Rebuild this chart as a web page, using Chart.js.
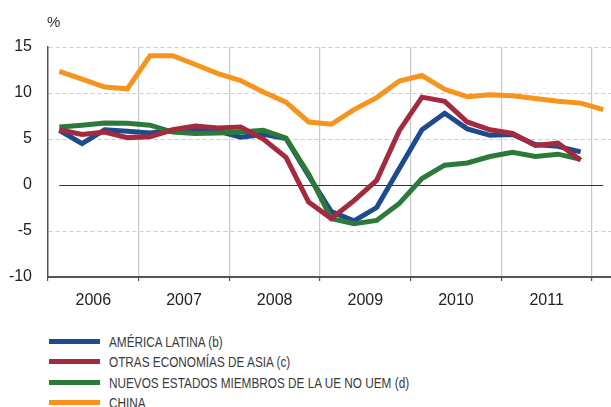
<!DOCTYPE html>
<html>
<head>
<meta charset="utf-8">
<script src="https://cdn.jsdelivr.net/npm/chart.js@4"></script>
<style>
  html, body { margin: 0; padding: 0; background: #fff; }
  #wrap { position: relative; width: 611px; height: 407px; font-family: "Liberation Sans", Arial, sans-serif; color: #333; }
  #chartBox { position: absolute; left: 0; top: 0; width: 611px; height: 320px; }
  #unit { position: absolute; left: 47px; top: 13px; font-size: 15px; color: #333; }
  .row { position: absolute; left: 0; height: 20px; width: 611px; }
  .sw { position: absolute; left: 49px; top: 8px; width: 51px; height: 5px; }
  .lb { position: absolute; left: 109px; top: 2px; font-size: 15px; line-height: 18px; white-space: nowrap;
        transform: scaleX(0.785); transform-origin: left center; color: #3a3a3a; }
</style>
</head>
<body>
<div id="wrap">
  <div id="chartBox"><canvas id="chart"></canvas></div>
  <div id="unit">%</div>
  <div id="legend"></div>
</div>
<script>
// trimestres 2006 T1 .. 2012 T1
const periods = [
  "2006T1","2006T2","2006T3","2006T4","2007T1","2007T2","2007T3","2007T4",
  "2008T1","2008T2","2008T3","2008T4","2009T1","2009T2","2009T3","2009T4",
  "2010T1","2010T2","2010T3","2010T4","2011T1","2011T2","2011T3","2011T4","2012T1"
];
const yearLabels = ["2006","2007","2008","2009","2010","2011"];
const yTicks = [-10, -5, 0, 5, 10, 15];

const americaLatina = [5.95, 4.5, 6.0, 5.85, 5.65, 5.9, 6.0, 5.85, 5.2, 5.5, 5.05, 1.0,
  -2.9, -3.9, -2.45, 1.8, 6.0, 7.8, 6.1, 5.4, 5.5, 4.4, 4.2, 3.6];
const otrasAsia = [6.0, 5.5, 5.75, 5.15, 5.25, 6.0, 6.4, 6.2, 6.3, 5.0, 3.0, -1.85,
  -3.65, -1.7, 0.5, 5.9, 9.55, 9.1, 6.85, 6.0, 5.6, 4.3, 4.55, 2.7];
const nuevosEstados = [6.3, 6.5, 6.75, 6.7, 6.5, 5.75, 5.6, 5.65, 5.75, 5.95, 5.1, 1.2,
  -3.65, -4.2, -3.85, -2.0, 0.7, 2.15, 2.4, 3.1, 3.55, 3.1, 3.35, 2.8];
const china = [12.35, 11.5, 10.65, 10.45, 14.05, 14.05, 13.1, 12.1, 11.35, 10.1, 9.0, 6.85,
  6.6, 8.2, 9.5, 11.3, 11.9, 10.4, 9.6, 9.8, 9.7, 9.4, 9.1, 8.9, 8.2];

const series = [
  { label: "AMÉRICA LATINA (b)", data: americaLatina, color: "#1e4a8e", order: 2 },
  { label: "OTRAS ECONOMÍAS DE ASIA (c)", data: otrasAsia, color: "#a32a3f", order: 0 },
  { label: "NUEVOS ESTADOS MIEMBROS DE LA UE NO UEM (d)", data: nuevosEstados, color: "#2c7a3a", order: 1 },
  { label: "CHINA", data: china, color: "#f7941e", order: 3 }
];

// posicion de cada trimestre en el eje (centro del trimestre)
function periodX(p) {
  const y = parseInt(p.slice(0, 4));
  const q = parseInt(p.slice(5));
  return y + (q - 0.5) / 4;
}

const datasets = series.map(s => ({
  label: s.label,
  data: s.data.map((v, i) => ({ x: periodX(periods[i]), y: v })),
  borderColor: s.color,
  backgroundColor: s.color,
  borderWidth: 5,
  pointRadius: 0,
  tension: 0,
  fill: false,
  order: s.order,
  borderCapStyle: "butt",
  borderJoinStyle: "miter"
}));

// linea del cero, desde el primer trimestre hasta el ultimo
const zeroLine = {
  id: "zeroLine",
  beforeDatasetsDraw(chart) {
    const { ctx, scales: { x, y } } = chart;
    const y0 = Math.round(y.getPixelForValue(0)) + 0.5;
    ctx.save();
    ctx.strokeStyle = "#333";
    ctx.lineWidth = 1;
    ctx.beginPath();
    ctx.moveTo(x.getPixelForValue(periodX(periods[0])), y0);
    ctx.lineTo(x.getPixelForValue(periodX(periods[periods.length - 1])), y0);
    ctx.stroke();
    ctx.restore();
  }
};

new Chart(document.getElementById("chart"), {
  type: "line",
  data: { datasets },
  plugins: [zeroLine],
  options: {
    responsive: true,
    maintainAspectRatio: false,
    animation: false,
    layout: { padding: { top: 47, right: 0, left: 0, bottom: 0 } },
    plugins: { legend: { display: false }, tooltip: { enabled: false } },
    scales: {
      x: {
        type: "linear",
        min: 2006,
        max: 2012.21,
        afterBuildTicks: s => {
          const t = [];
          for (let i = 0; i <= yearLabels.length * 2; i++) t.push({ value: 2006 + i / 2 });
          s.ticks = t;
        },
        afterFit: s => { s.height = 43; },
        grid: {
          color: c => (c.tick && c.tick.value % 1 === 0 && c.tick.value !== 2006) ? "#c9c9c9" : "rgba(0,0,0,0)",
          tickColor: c => (c.tick && c.tick.value % 1 === 0) ? "#555" : "rgba(0,0,0,0)",
          lineWidth: 1.2,
          tickLength: 4
        },
        border: { color: "#555", width: 2 },
        ticks: {
          autoSkip: false,
          maxRotation: 0,
          padding: 10,
          color: "#222",
          font: { size: 16, family: "Liberation Sans" },
          callback: (v, i) => i % 2 === 1 ? yearLabels[(i - 1) / 2] : ""
        }
      },
      y: {
        min: -10,
        max: 15,
        afterBuildTicks: s => { s.ticks = yTicks.map(v => ({ value: v })); },
        afterFit: s => { s.width = 48; },
        grid: {
          color: c => (c.tick && (c.tick.value === 0 || c.tick.value === -10)) ? "rgba(0,0,0,0)" : "#cdcdcd",
          lineWidth: 1,
          drawTicks: false
        },
        border: { color: "#555", width: 1.5, dash: [4, 3] },
        ticks: {
          padding: 16,
          color: "#222",
          font: { size: 16, family: "Liberation Sans" }
        }
      }
    }
  }
});

// leyenda en columna bajo el grafico
const legend = document.getElementById("legend");
const rowCenters = [340.5, 361, 381.5, 402];
series.forEach((s, i) => {
  const row = document.createElement("div");
  row.className = "row";
  row.style.top = (rowCenters[i] - 10) + "px";
  row.innerHTML = `<div class="sw" style="background:${s.color}"></div><div class="lb">${s.label}</div>`;
  legend.appendChild(row);
});
</script>
</body>
</html>
